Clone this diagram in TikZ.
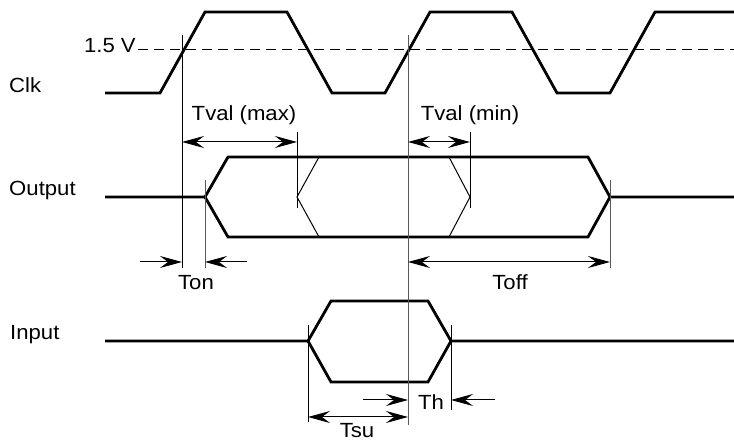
\documentclass[tikz,border=0pt]{standalone}
\usepackage{fontspec}
\setmainfont{Liberation Sans}
\usetikzlibrary{arrows.meta}
\begin{document}
\begin{tikzpicture}[x=1pt,y=-1pt,
  sig/.style={line width=2.8pt, line join=miter},
  fine/.style={line width=1pt},
  grayline/.style={line width=1pt, draw=black!65},
  tip/.tip={Stealth[length=22pt,width=12pt,inset=8pt]},
  dimboth/.style={line width=1pt, tip-tip},
  dimright/.style={line width=1pt, -tip},
  lbl/.style={font=\fontsize{20.5}{24}\selectfont, inner sep=0pt, xscale=1.08}]
\useasboundingbox[fill=white] (0,0) rectangle (734,443);

% labels
\node[lbl, anchor=base west] (lclk) at (9,93) {Clk};
\node[lbl, anchor=base west] (lout) at (9,196) {Output};
\node[lbl, anchor=base west] (lin) at (10,340) {Input};
\node[lbl, anchor=base east] (lv) at (136,53) {1.5 V};

% threshold
\coordinate (d1) at (138,50);
\coordinate (d2) at (734,50);
\draw[fine, dash pattern=on 10pt off 6pt] (d1) -- (d2);

% clock
\draw[sig] (105,93) -- (160,93) -- (205,12) -- (287,12) -- (332,93) -- (385,93)
  -- (430,12) -- (512,12) -- (557,93) -- (610,93) -- (655,12) -- (736,12);

% output
\draw[sig] (105,197) -- (205,197) -- (228,157) -- (588,157) -- (610,197) -- (736,197);
\draw[sig] (205,197) -- (228,237) -- (588,237) -- (610,197);
\draw[fine] (319,157) -- (297,197) -- (319,237);
\draw[fine] (449,157) -- (470,197) -- (449,237);

% input
\draw[sig] (105,341) -- (308,341) -- (331,301) -- (428,301) -- (451,341) -- (736,341);
\draw[sig] (308,341) -- (331,382) -- (428,382) -- (451,341);

% vertical markers
\coordinate (v1t) at (182,35);  \coordinate (v1b) at (182,268);
\coordinate (v2t) at (408,35);  \coordinate (v2b) at (408,425);
\coordinate (v3t) at (297,132); \coordinate (v3b) at (297,208);
\coordinate (v4t) at (470,132); \coordinate (v4b) at (470,208);
\coordinate (v5t) at (205,180); \coordinate (v5b) at (205,268);
\coordinate (v6t) at (610,180); \coordinate (v6b) at (610,268);
\coordinate (v7t) at (308,325); \coordinate (v7b) at (308,422);
\coordinate (v8t) at (451,325); \coordinate (v8b) at (451,410);
\draw[fine] (v1t) -- (v1b);
\draw[grayline] (v2t) -- (v2b);
\draw[fine] (v3t) -- (v3b);
\draw[fine] (v4t) -- (v4b);
\draw[grayline] (v5t) -- (v5b);
\draw[grayline] (v6t) -- (v6b);
\draw[fine] (v7t) -- (v7b);
\draw[fine] (v8t) -- (v8b);

% Tval (max)
\coordinate (a1) at (182,142); \coordinate (a2) at (297,142);
\draw[dimboth] (a1) -- (a2);
\node[lbl, anchor=base] (tvmax) at (244,121) {Tval (max)};

% Tval (min)
\coordinate (b1) at (408,142); \coordinate (b2) at (470,142);
\draw[dimboth] (b1) -- (b2);
\node[lbl, anchor=base] (tvmin) at (470,121) {Tval (min)};

% Ton
\coordinate (c1) at (140,262); \coordinate (c2) at (182,262);
\coordinate (c3) at (247,262); \coordinate (c4) at (205,262);
\draw[dimright] (c1) -- (c2);
\draw[dimright] (c3) -- (c4);
\node[lbl, anchor=base] (ton) at (196,290) {Ton};

% Toff
\coordinate (e1) at (408,262); \coordinate (e2) at (610,262);
\draw[dimboth] (e1) -- (e2);
\node[lbl, anchor=base] (toff) at (510,290) {Toff};

% Th
\coordinate (f1) at (363,400); \coordinate (f2) at (408,400);
\coordinate (f3) at (495,400); \coordinate (f4) at (451,400);
\draw[dimright] (f1) -- (f2);
\draw[dimright] (f3) -- (f4);
\node[lbl, anchor=base] (th) at (431,410) {Th};

% Tsu
\coordinate (g1) at (308,417); \coordinate (g2) at (408,417);
\draw[dimboth] (g1) -- (g2);
\node[lbl, anchor=base] (tsu) at (357,438) {Tsu};
\end{tikzpicture}
\end{document}
